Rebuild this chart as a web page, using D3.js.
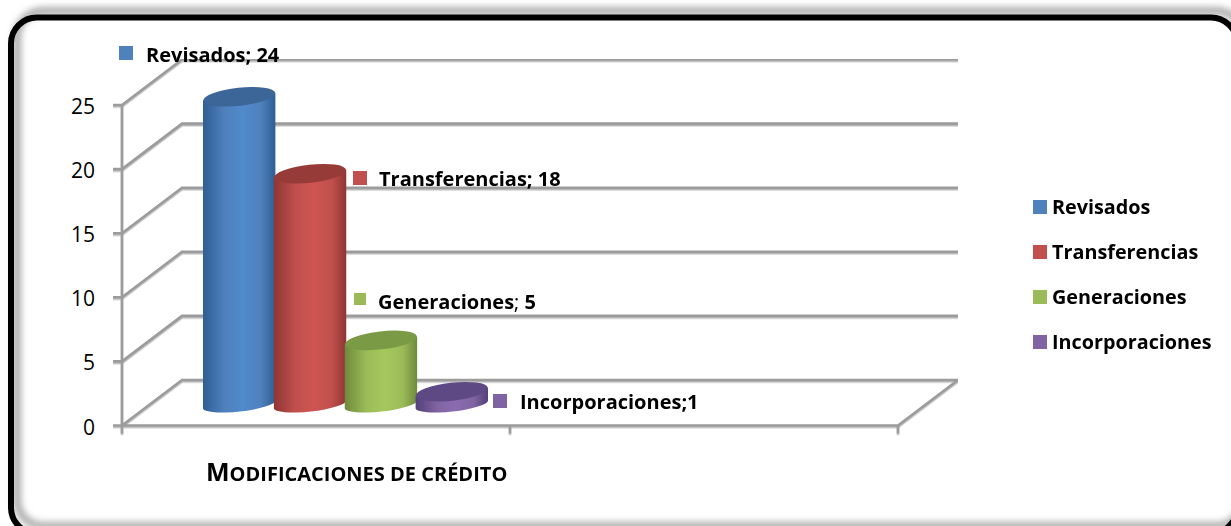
<!DOCTYPE html>
<html>
<head>
<meta charset="utf-8">
<script src="https://cdnjs.cloudflare.com/ajax/libs/d3/7.8.5/d3.min.js"></script>
<style>
  html, body { margin: 0; padding: 0; background: #fff; }
  svg { display: block; }
  text { font-family: "Open Sans", Lato, sans-serif; fill: #000; }
</style>
</head>
<body>
<svg id="chart" width="1231" height="526"></svg>
<script>
const names = ["Revisados", "Transferencias", "Generaciones", "Incorporaciones"];
const values = [24, 18, 5, 1];
const colors = ["#4f81bd", "#c0504d", "#9bbb59", "#8064a2"];
const lightColors = ["#4f8acb", "#cf5452", "#a5c85c", "#8a6cb0"];
const darkColors = ["#2f5d94", "#8f3533", "#6f8a3c", "#54407a"];
const topColors = ["#3a6697", "#973b39", "#7a9a44", "#5f4a85"];
const labelSeparators = ["; ", "; ", "; ", ";"];
const yTicks = [0, 5, 10, 15, 20, 25];

const width = 1231, height = 526;
const svg = d3.select("#chart");
const defs = svg.append("defs");

// plot geometry
const y = d3.scaleLinear().domain([0, 25]).range([425.5, 105]);
const xFront = d3.scaleLinear().domain([0, 2]).range([122, 898]);
const depth = { x: 60, y: -45.5 };
const band = d3.scaleBand().domain(names).range([203, 486.5]).paddingInner(0);

// filters
const shadow = defs.append("filter").attr("id", "shadow")
  .attr("x", "-5%").attr("y", "-10%").attr("width", "110%").attr("height", "120%");
shadow.append("feGaussianBlur").attr("stdDeviation", 3.5);
const soft = defs.append("filter").attr("id", "soft");
soft.append("feGaussianBlur").attr("stdDeviation", 0.35);
const lineShadow = defs.append("filter").attr("id", "lineShadow")
  .attr("x", 0).attr("y", 0).attr("width", 1).attr("height", 1.1);
lineShadow.append("feDropShadow")
  .attr("dx", 0).attr("dy", 1.5).attr("stdDeviation", 0.6)
  .attr("flood-color", "#bbb");

// frame: white card, offset soft shadow, black border on top
svg.append("rect")
  .attr("x", 11).attr("y", 17.5).attr("width", 1226).attr("height", 516)
  .attr("rx", 26).attr("fill", "#fff");
svg.append("rect")
  .attr("x", 17).attr("y", 11).attr("width", 1226).attr("height", 515)
  .attr("rx", 26)
  .attr("fill", "none").attr("stroke", "#a0a0a0").attr("stroke-width", 7)
  .attr("filter", "url(#shadow)");
svg.append("rect")
  .attr("x", 11).attr("y", 17.5).attr("width", 1226).attr("height", 516)
  .attr("rx", 26)
  .attr("fill", "none").attr("stroke", "#000").attr("stroke-width", 6);

// walls
const grid = svg.append("g")
  .attr("fill", "none").attr("stroke", "#9c9c9c").attr("stroke-width", 2.6)
  .attr("filter", "url(#lineShadow)");

yTicks.forEach(t => {
  const py = y(t);
  grid.append("path").attr("d", d3.line()([
    [xFront(0) - 9, py],
    [xFront(0), py],
    [xFront(0) + depth.x, py + depth.y],
    [xFront(2) + depth.x, py + depth.y]
  ]));
});
grid.append("path").attr("d", d3.line()([[xFront(0), y(25)], [xFront(0), y(0) + 8]]));
grid.append("path").attr("d", d3.line()([
  [xFront(0), y(0)],
  [xFront(2), y(0)],
  [xFront(2) + depth.x, y(0) + depth.y]
]));
[1, 2].forEach(t => {
  grid.append("path").attr("d", d3.line()([[xFront(t), y(0)], [xFront(t), y(0) + 8]]));
});

// y tick labels
svg.append("g").selectAll("text").data(yTicks).join("text")
  .attr("x", 95).attr("y", d => y(d) + 9)
  .attr("text-anchor", "end").attr("font-size", 21)
  .text(d => d);

// cylinders
names.forEach((name, i) => {
  const g = defs.append("linearGradient").attr("id", "cyl" + i)
    .attr("x1", 0).attr("x2", 1).attr("y1", 0).attr("y2", 0);
  g.append("stop").attr("offset", 0).attr("stop-color", darkColors[i]);
  g.append("stop").attr("offset", 0.3).attr("stop-color", colors[i]);
  g.append("stop").attr("offset", 0.55).attr("stop-color", lightColors[i]);
  g.append("stop").attr("offset", 0.8).attr("stop-color", colors[i]);
  g.append("stop").attr("offset", 1).attr("stop-color", darkColors[i]);
});

const floorLift = 21;   // cylinders stand this far back from the front edge
const tilt = 4;         // right side of each ellipse sits higher
const ry = 9;
const bars = svg.append("g").attr("filter", "url(#soft)");
names.forEach((name, i) => {
  const x0 = band(name);
  const w = band.bandwidth() + 1.5;
  const x1 = x0 + w;
  const cx = (x0 + x1) / 2;
  const base = y(0) - floorLift;
  const top = y(values[i]) - floorLift;
  const rx = w / 2;
  const rot = -Math.atan2(tilt * 2, w) * 180 / Math.PI;
  bars.append("path")
    .attr("d", `M${x0},${top + tilt} L${x1},${top - tilt} L${x1},${base - tilt}`
      + ` A${rx},${ry - 2} ${rot} 0 1 ${x0},${base + tilt} Z`)
    .attr("fill", `url(#cyl${i})`);
  bars.append("ellipse")
    .attr("cx", cx).attr("cy", top)
    .attr("rx", rx).attr("ry", ry)
    .attr("transform", `rotate(${rot} ${cx} ${top})`)
    .attr("fill", topColors[i]);
});

// data labels
const labelPos = [[146, 62], [379, 186], [378, 309], [520, 409]];
const markPos = [[119, 46, 14], [353, 171, 14], [354, 293, 12], [493, 394, 14]];
const labels = svg.append("g").attr("filter", "url(#soft)");
names.forEach((name, i) => {
  labels.append("rect")
    .attr("x", markPos[i][0]).attr("y", markPos[i][1])
    .attr("width", markPos[i][2]).attr("height", markPos[i][2]).attr("fill", colors[i]);
  const t = labels.append("text")
    .attr("x", labelPos[i][0]).attr("y", labelPos[i][1])
    .attr("font-size", 20).attr("font-weight", 700);
  t.append("tspan").text(name);
  t.append("tspan").attr("font-weight", i === 2 ? 400 : 700).attr("xml:space", "preserve")
    .text(labelSeparators[i]);
  t.append("tspan").text(values[i]);
});

// axis title
const title = svg.append("text").attr("x", 206).attr("y", 481)
  .attr("font-weight", 700).attr("filter", "url(#soft)");
title.append("tspan").attr("font-size", 25).text("M");
title.append("tspan").attr("font-size", 20).text("ODIFICACIONES DE CRÉDITO");

// legend
const legend = svg.append("g").attr("filter", "url(#soft)");
names.forEach((name, i) => {
  legend.append("rect")
    .attr("x", 1033).attr("y", 200 + i * 45)
    .attr("width", 14).attr("height", 14).attr("fill", colors[i]);
  legend.append("text")
    .attr("x", 1052).attr("y", 214 + i * 45)
    .attr("font-size", 19.8).attr("font-weight", 700)
    .text(name);
});
</script>
</body>
</html>
